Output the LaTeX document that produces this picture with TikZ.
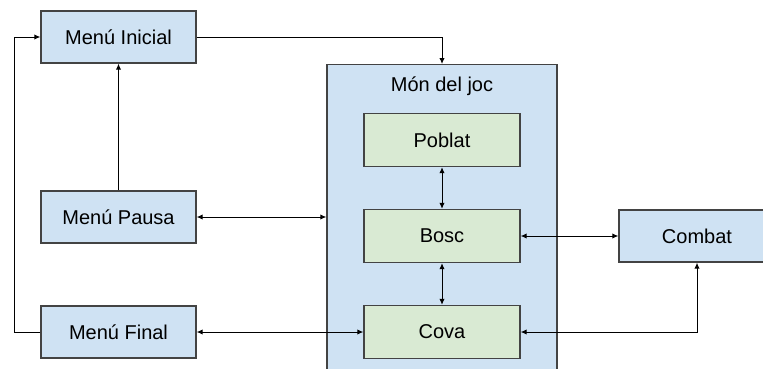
\documentclass[tikz,border=0pt]{standalone}
\usepackage{fontspec}
\setmainfont{Liberation Sans}
\usetikzlibrary{arrows.meta,shadows}

\definecolor{boxblue}{RGB}{207,226,243}
\definecolor{boxgreen}{RGB}{217,234,211}
\definecolor{boxline}{RGB}{67,67,67}

\tikzset{every picture/.style={line width=0.75pt}}

\begin{document}
\begin{tikzpicture}[x=0.75pt,y=0.75pt,yscale=-1,xscale=1,
  menu/.style={draw=boxline, line width=1pt, fill=boxblue, minimum width=116.25pt, minimum height=39pt, inner sep=0pt, font=\fontsize{15}{18}\selectfont},
  zona/.style={draw=boxline, line width=1pt, fill=boxgreen, minimum width=117pt, minimum height=39.75pt, inner sep=0pt, font=\fontsize{15}{18}\selectfont},
  arr/.style={-{Latex[length=4.5pt,width=4pt]}},
  arrboth/.style={{Latex[length=4.5pt,width=4pt]}-{Latex[length=4.5pt,width=4pt]}}]
\useasboundingbox (0,0) rectangle (763,368);
\clip (0,0) rectangle (763,368);

% world container
\node [draw=boxline, line width=1pt, fill=boxblue, minimum width=172.5pt, minimum height=240pt, anchor=north] (joc) at (442,64) {};
\node [font=\fontsize{15}{18}\selectfont] (titol) at (442,86) {Món del joc};

% menus
\node [menu] (inicial) at (118.5,37) {Menú Inicial};
\node [menu, drop shadow={opacity=0.25, shadow xshift=1pt, shadow yshift=-1pt}] (pausa) at (118.5,217) {Menú Pausa};
\node [menu] (final) at (118.5,332) {Menú Final};

% zones
\node [zona] (poblat) at (442,140) {Poblat};
\node [zona] (bosc) at (442,236) {Bosc};
\node [zona] (cova) at (442,332) {Cova};
\node [menu, minimum width=117pt] (combat) at (697,236) {Combat};

% connectors
\draw [arr] (inicial.east) -| (joc.north);
\draw [arr] (pausa.north) -- (inicial.south);
\draw [arrboth] (pausa.east) -- (pausa.east -| joc.west);
\draw [arrboth] (final.east) -- (cova.west);
\draw [arr] (final.west) -- ++(-26,0) |- (inicial.west);
\draw [arrboth] (poblat.south) -- (bosc.north);
\draw [arrboth] (bosc.south) -- (cova.north);
\draw [arrboth] (bosc.east) -- (combat.west);
\draw [arrboth] (combat.south) |- (cova.east);

\end{tikzpicture}
\end{document}
